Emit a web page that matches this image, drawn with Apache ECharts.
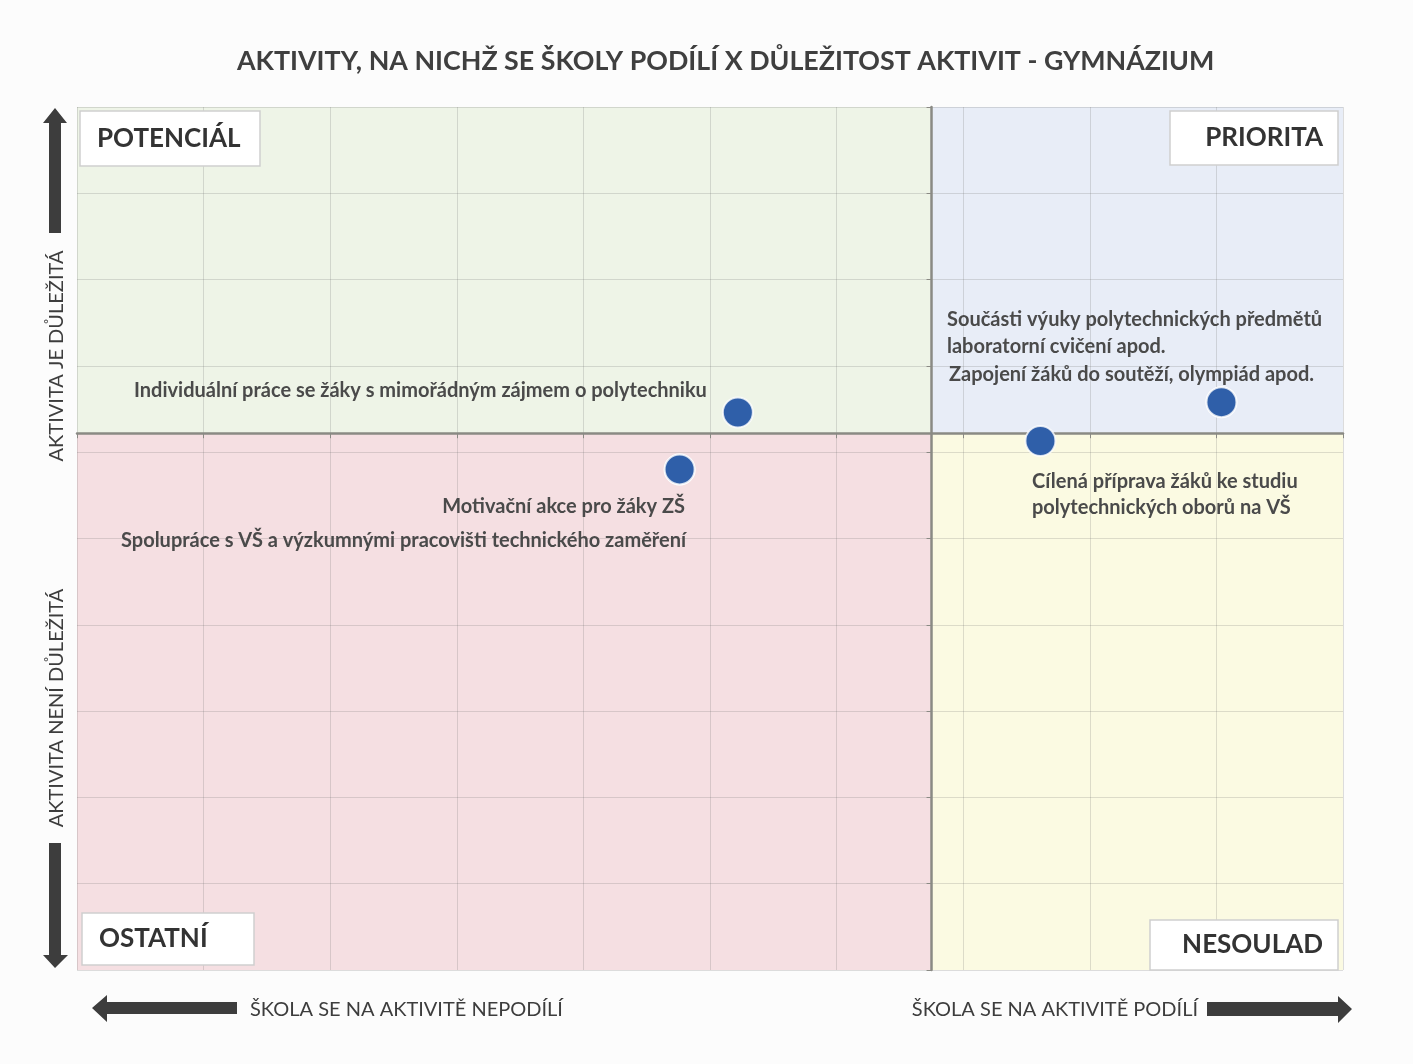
<!DOCTYPE html>
<html>
<head>
<meta charset="utf-8">
<title>Aktivity x důležitost - gymnázium</title>
<script src="https://cdn.jsdelivr.net/npm/echarts@6/dist/echarts.min.js"></script>
<style>
  html, body { margin: 0; padding: 0; background: #fcfcfc; }
  #chart { width: 1413px; height: 1064px; }
</style>
</head>
<body>
<div id="chart"></div>
<script>
// activities (two pairs share the same position)
var activities = [
    'Individuální práce se žáky s mimořádným zájmem o polytechniku',
    'Motivační akce pro žáky ZŠ',
    'Spolupráce s VŠ a výzkumnými pracovišti technického zaměření',
    'Cílená příprava žáků ke studiu polytechnických oborů na VŠ',
    'Součásti výuky polytechnických předmětů laboratorní cvičení apod.',
    'Zapojení žáků do soutěží, olympiád apod.'
];
// x: how much the school takes part, y: importance (0-10 scale)
var participation = [5.22, 4.76, 4.76, 7.61, 9.04, 9.04];
var importance = [6.46, 5.80, 5.80, 6.13, 6.58, 6.58];

// where the quadrants are split
var xSplit = 6.75;
var ySplit = 6.22;
var axisMax = 10;

var quadrantNames = ['POTENCIÁL', 'PRIORITA', 'OSTATNÍ', 'NESOULAD'];

var textColor = '#3d3d3d';
var font = 'Lato, "Open Sans", sans-serif';

var chart = echarts.init(document.getElementById('chart'));

var points = participation.map(function (x, i) {
    return { name: activities[i], value: [x, importance[i]] };
});

function labelBox(x, y, w, h, text, align) {
    return {
        type: 'group',
        z: 100,
        children: [
            { type: 'rect', z: 100, shape: { x: x, y: y, width: w, height: h },
              style: { fill: '#ffffff', stroke: '#cfcfcf', lineWidth: 1.5 } },
            { type: 'text', z: 101, x: align === 'left' ? x + 17 : x + w - 15, y: y + h / 2,
              style: { text: text, fill: '#333333', font: 'bold 26px ' + font,
                       textAlign: align, textVerticalAlign: 'middle' } }
        ]
    };
}

function note(x, y, text, align) {
    return {
        type: 'text', x: x, y: y, z: 100,
        style: { text: text, fill: '#4a4a4a', font: 'bold 20px ' + font,
                 textAlign: align || 'left', textVerticalAlign: 'middle' }
    };
}

function caption(x, y, text, align, rotation) {
    return {
        type: 'text', x: x, y: y, z: 100, rotation: rotation || 0,
        style: { text: text, fill: textColor, font: '20px ' + font,
                 textAlign: align, textVerticalAlign: 'middle' }
    };
}

var arrowColor = '#3d3d3d';
function arrow(pts) {
    return { type: 'polygon', z: 100, shape: { points: pts }, style: { fill: arrowColor } };
}

var gridLine = { show: true, lineStyle: { color: 'rgba(110,110,110,0.22)', width: 1 } };
var dividerLine = { color: '#8a8a84', width: 2.5 };

var option = {
    backgroundColor: '#fcfcfc',
    title: {
        text: 'AKTIVITY, NA NICHŽ SE ŠKOLY PODÍLÍ X DŮLEŽITOST AKTIVIT - GYMNÁZIUM',
        left: 232,
        top: 43,
        textStyle: { color: '#3f3f3f', fontFamily: font, fontWeight: 'bold', fontSize: 26.8 }
    },
    grid: { left: 77, right: 70, top: 107, bottom: 94 },
    xAxis: [
        {
            type: 'value', min: 0, max: axisMax, interval: 1, z: 3,
            axisLine: { onZero: true, onZeroAxisIndex: 1, lineStyle: dividerLine },
            axisTick: { show: true, length: 5, lineStyle: { color: '#8a8a84' } },
            axisLabel: { show: false },
            splitLine: gridLine
        },
        { type: 'value', min: -xSplit, max: axisMax - xSplit, show: false }
    ],
    yAxis: [
        {
            type: 'value', min: 0, max: axisMax, interval: 1, z: 3,
            axisLine: { onZero: true, onZeroAxisIndex: 1, lineStyle: dividerLine },
            axisTick: { show: true, length: 5, lineStyle: { color: '#8a8a84' } },
            axisLabel: { show: false },
            splitLine: gridLine
        },
        { type: 'value', min: -ySplit, max: axisMax - ySplit, show: false }
    ],
    series: [
        {
            // quadrant backgrounds, under the grid lines
            type: 'scatter',
            data: [],
            silent: true,
            markArea: {
                silent: true,
                z: -1,
                data: [
                    [{ xAxis: 0, yAxis: ySplit, itemStyle: { color: '#eef4e7' } }, { xAxis: xSplit, yAxis: axisMax }],
                    [{ xAxis: xSplit, yAxis: ySplit, itemStyle: { color: '#e8edf7' } }, { xAxis: axisMax, yAxis: axisMax }],
                    [{ xAxis: 0, yAxis: 0, itemStyle: { color: '#f5dfe2' } }, { xAxis: xSplit, yAxis: ySplit }],
                    [{ xAxis: xSplit, yAxis: 0, itemStyle: { color: '#fbfae2' } }, { xAxis: axisMax, yAxis: ySplit }]
                ]
            }
        },
        {
            type: 'scatter',
            z: 10,
            data: points,
            symbolSize: 30,
            itemStyle: {
                color: '#2f5fa9',
                borderColor: 'rgba(255,255,255,0.8)',
                borderWidth: 2,
                opacity: 1
            }
        }
    ],
    graphic: [
        labelBox(80, 111, 180, 55, quadrantNames[0], 'left'),
        labelBox(1170, 111, 168, 54, quadrantNames[1], 'right'),
        labelBox(82, 913, 172, 52, quadrantNames[2], 'left'),
        labelBox(1150, 920, 188, 50, quadrantNames[3], 'right'),

        note(134, 391, activities[0]),
        note(685, 507, activities[1], 'right'),
        note(121, 541, activities[2]),
        note(1032, 482, 'Cílená příprava žáků ke studiu'),
        note(1032, 508, 'polytechnických oborů na VŠ'),
        note(947, 320, 'Součásti výuky polytechnických předmětů'),
        note(947, 347, 'laboratorní cvičení apod.'),
        note(949, 375, activities[5]),

        // axis captions
        caption(57, 356, 'AKTIVITA JE DŮLEŽITÁ', 'center', Math.PI / 2),
        caption(57, 708, 'AKTIVITA NENÍ DŮLEŽITÁ', 'center', Math.PI / 2),
        caption(250, 1010, 'ŠKOLA SE NA AKTIVITĚ NEPODÍLÍ', 'left'),
        caption(1198, 1010, 'ŠKOLA SE NA AKTIVITĚ PODÍLÍ', 'right'),

        // arrows
        arrow([[49, 233], [49, 123], [43, 123], [55, 108], [67, 123], [61, 123], [61, 233]]),
        arrow([[49, 843], [49, 955], [43, 955], [55, 968], [68, 955], [61, 955], [61, 843]]),
        arrow([[237, 1002], [107, 1002], [107, 995], [92, 1008], [107, 1022], [107, 1014], [237, 1014]]),
        arrow([[1207, 1002], [1338, 1002], [1338, 996], [1352, 1009], [1338, 1023], [1338, 1016], [1207, 1016]])
    ]
};

chart.setOption(option);
</script>
</body>
</html>
